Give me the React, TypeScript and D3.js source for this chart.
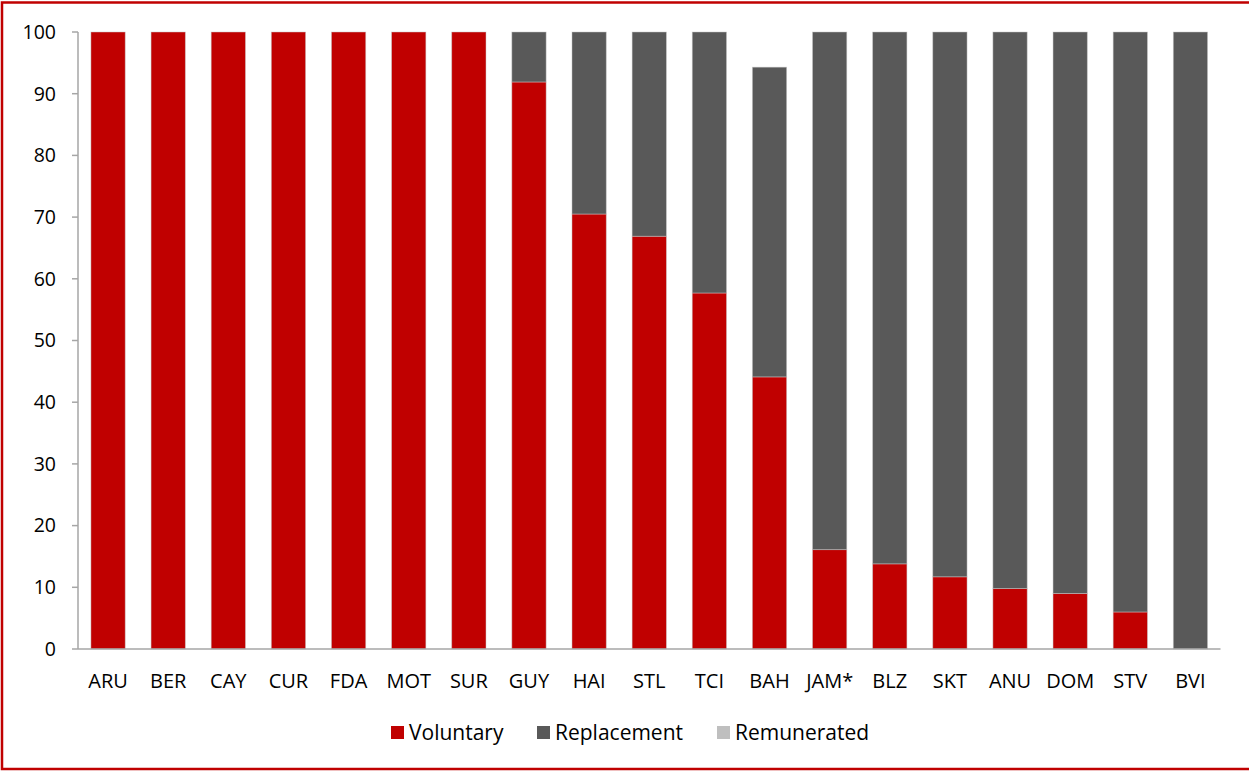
import React from "react";
import * as d3 from "d3";

const categories = ["ARU","BER","CAY","CUR","FDA","MOT","SUR","GUY","HAI","STL","TCI","BAH","JAM*","BLZ","SKT","ANU","DOM","STV","BVI"];
const voluntary = [100,100,100,100,100,100,100,91.9,70.5,66.9,57.7,44.1,16.1,13.8,11.7,9.8,9.0,6.0,0];
const replacement = [0,0,0,0,0,0,0,8.1,29.5,33.1,42.3,50.2,83.9,86.2,88.3,90.2,91.0,94.0,100];
const remunerated = [0,0,0,0,0,0,0,0,0,0,0,0,0,0,0,0,0,0,0];
const yTicks = [0,10,20,30,40,50,60,70,80,90,100];
const seriesNames = ["Voluntary","Replacement","Remunerated"];
const colors = ["#C00000","#595959","#BFBFBF"];

const W = 1249, H = 771;
const FONT = "'Open Sans', 'Noto Sans', sans-serif";

export default function App() {
  const x = d3.scaleBand<string>().domain(categories).range([78, 1220.5]).paddingInner(0.43).paddingOuter(0.215);
  const y = d3.scaleLinear().domain([0, 100]).range([649, 32]);
  const data = categories.map((c, i) => ({ cat: c, Voluntary: voluntary[i], Replacement: replacement[i], Remunerated: remunerated[i] }));
  const stack = d3.stack<any>().keys(seriesNames)(data);
  const legendX = [391, 537, 717];
  return (
    <svg width={W} height={H} style={{ position: "absolute", left: 0, top: 0 }}>
      <rect x={0} y={0} width={W} height={H} fill="#fff" />
      <rect x={2} y={2.5} width={W + 10} height={H - 4.5} fill="none" stroke="#C00000" strokeWidth={2.5} />
      {stack.map((s, si) => (
        <g key={si}>
          {s.map((d, i) => {
            const h = y(d[0]) - y(d[1]);
            if (h <= 0) return null;
            return (
              <rect key={i} x={x(categories[i])} y={y(d[1])} width={x.bandwidth()} height={h}
                fill={colors[si]} stroke="rgba(200,200,200,0.6)" strokeWidth={0.8} />
            );
          })}
        </g>
      ))}
      <line x1={78} x2={78} y1={32} y2={649} stroke="#A6A6A6" strokeWidth={1.5} />
      <line x1={78} x2={1220.5} y1={649} y2={649} stroke="#A6A6A6" strokeWidth={1.5} />
      {yTicks.map((t) => (
        <g key={t}>
          <line x1={72} x2={78} y1={y(t)} y2={y(t)} stroke="#A6A6A6" strokeWidth={1.5} />
          <text x={56} y={y(t)} dy="0.35em" textAnchor="end" fontFamily={FONT} fontSize={19.5} fill="#000">{t}</text>
        </g>
      ))}
      {categories.map((c) => (
        <text key={c} x={(x(c) as number) + x.bandwidth() / 2} y={688} textAnchor="middle" fontFamily={FONT} fontSize={20} fill="#000">{c}</text>
      ))}
      {seriesNames.map((n, i) => (
        <g key={n}>
          <rect x={legendX[i]} y={726} width={13} height={13} fill={colors[i]} />
          <text x={legendX[i] + 18} y={740} fontFamily={FONT} fontSize={21} fill="#000">{n}</text>
        </g>
      ))}
    </svg>
  );
}
